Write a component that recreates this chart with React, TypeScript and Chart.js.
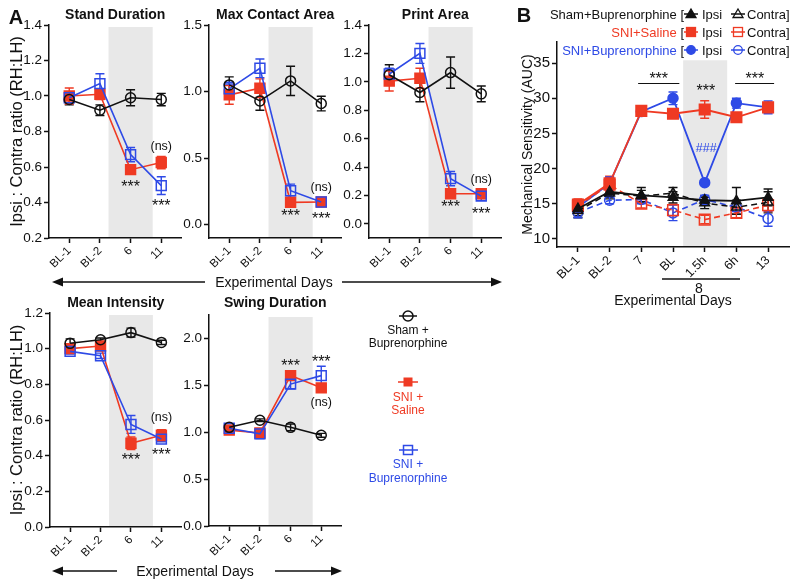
import React, { useEffect, useRef } from 'react';
import { Chart, registerables } from 'chart.js';

Chart.register(...registerables);

const FONT = "'Liberation Sans', Arial, Helvetica, sans-serif";
const INK = '#111111';
const RED = '#ef3a23';
const BLUE = '#2e4ae6';
const SHADE = '#e8e8e8';

Chart.defaults.font.family = FONT;
Chart.defaults.color = INK;

// ---------- categories ----------
const daysA = ['BL-1', 'BL-2', '6', '11'];
const daysB = ['BL-1', 'BL-2', '7', 'BL', '1.5h', '6h', '13'];

// ---------- Stand Duration ----------
const standSham = [0.98, 0.92, 0.99, 0.98];
const standShamErr = [0.03, 0.03, 0.045, 0.035];
const standSaline = [1.0, 1.01, 0.585, 0.625];
const standSalineErr = [0.045, 0.03, 0.025, 0.035];
const standBup = [0.99, 1.07, 0.67, 0.495];
const standBupErr = [0.03, 0.055, 0.04, 0.05];
const standTicks = ['0.2', '0.4', '0.6', '0.8', '1.0', '1.2', '1.4'];
const standNotes = [
  { x: 2, y: 0.51, t: '***' },
  { x: 3, y: 0.403, t: '***' },
  { x: 3, y: 0.718, t: '(ns)' },
];

// ---------- Max Contact Area ----------
const contactSham = [1.05, 0.93, 1.08, 0.91];
const contactShamErr = [0.06, 0.07, 0.11, 0.055];
const contactSaline = [0.975, 1.025, 0.168, 0.17];
const contactSalineErr = [0.07, 0.07, 0.015, 0.02];
const contactBup = [1.02, 1.175, 0.255, 0.17];
const contactBupErr = [0.05, 0.07, 0.05, 0.02];
const contactTicks = ['0.0', '0.5', '1.0', '1.5'];
const contactNotes = [
  { x: 2, y: 0.09, t: '***' },
  { x: 3, y: 0.068, t: '***' },
  { x: 3, y: 0.279, t: '(ns)' },
];

// ---------- Print Area ----------
const printSham = [1.05, 0.925, 1.065, 0.915];
const printShamErr = [0.07, 0.065, 0.11, 0.055];
const printSaline = [1.005, 1.025, 0.212, 0.212];
const printSalineErr = [0.07, 0.07, 0.015, 0.025];
const printBup = [1.055, 1.2, 0.318, 0.195];
const printBupErr = [0.04, 0.07, 0.05, 0.03];
const printTicks = ['0.0', '0.2', '0.4', '0.6', '0.8', '1.0', '1.2', '1.4'];
const printNotes = [
  { x: 2, y: 0.142, t: '***' },
  { x: 3, y: 0.092, t: '***' },
  { x: 3, y: 0.311, t: '(ns)' },
];

// ---------- Mean Intensity ----------
const intensitySham = [1.03, 1.05, 1.09, 1.035];
const intensityShamErr = [0.025, 0.01, 0.025, 0.012];
const intensitySaline = [1.0, 1.015, 0.47, 0.515];
const intensitySalineErr = [0.02, 0.02, 0.035, 0.03];
const intensityBup = [0.985, 0.96, 0.575, 0.493];
const intensityBupErr = [0.015, 0.015, 0.05, 0.015];
const intensityTicks = ['0.0', '0.2', '0.4', '0.6', '0.8', '1.0', '1.2'];
const intensityNotes = [
  { x: 2, y: 0.394, t: '***' },
  { x: 3, y: 0.422, t: '***' },
  { x: 3, y: 0.614, t: '(ns)' },
];

// ---------- Swing Duration ----------
const swingSham = [1.05, 1.125, 1.05, 0.965];
const swingShamErr = [0.02, 0.015, 0.035, 0.02];
const swingSaline = [1.02, 0.99, 1.6, 1.47];
const swingSalineErr = [0.03, 0.045, 0.02, 0.03];
const swingBup = [1.04, 0.98, 1.51, 1.6];
const swingBupErr = [0.03, 0.05, 0.05, 0.1];
const swingTicks = ['0.0', '0.5', '1.0', '1.5', '2.0'];
const swingNotes = [
  { x: 2, y: 1.745, t: '***' },
  { x: 3, y: 1.787, t: '***' },
  { x: 3, y: 1.31, t: '(ns)' },
];

// ---------- Mechanical Sensitivity (B) ----------
const shamIpsi = [14.3, 16.7, 16.2, 15.9, 15.5, 15.4, 15.9];
const shamIpsiErr = [1.0, 0.8, 1.1, 0.8, 0.6, 1.9, 1.2];
const shamContra = [14.0, 16.5, 16.1, 16.5, 15.1, 14.5, 15.2];
const shamContraErr = [1.0, 0.8, 0.8, 0.8, 0.8, 1.0, 1.5];
const salineIpsi = [14.9, 17.9, 28.2, 27.8, 28.4, 27.3, 28.7];
const salineIpsiErr = [0.8, 1.0, 0.4, 0.5, 1.25, 0.6, 0.6];
const salineContra = [14.7, 17.7, 15.0, 14.1, 12.75, 13.7, 14.8];
const salineContraErr = [0.8, 1.0, 0.6, 0.8, 0.6, 0.7, 0.9];
const bupIpsi = [14.5, 17.9, 28.1, 30.0, 18.0, 29.3, 28.7];
const bupIpsiErr = [0.8, 0.9, 0.4, 0.9, 0.3, 0.7, 0.9];
const bupContra = [13.8, 15.5, 15.6, 13.7, 15.6, 14.5, 12.9];
const bupContraErr = [0.8, 0.5, 0.6, 1.1, 0.6, 0.6, 1.1];
const mechTicks = ['10', '15', '20', '25', '30', '35'];
const mechNotes = [
  { x: 2.55, y: 33.3, t: '***' },
  { x: 4.04, y: 31.6, t: '***' },
  { x: 5.58, y: 33.3, t: '***' },
  { x: 4.05, y: 22.9, t: '###', c: BLUE },
];
const mechBrackets = [
  { x0: 1.9, x1: 3.2, y: 32.16 },
  { x0: 4.96, x1: 6.19, y: 32.16 },
];

// ---------- types & helpers ----------
type Note = { x: number; y: number; t: string; c?: string };
type Series = {
  vals: number[]; errs: number[]; color: string; style: string; r: number;
  filled: boolean; dash?: number[]; lw?: number;
};
type Box = { x: number; y: number; w: number; h: number };

function decor(o: {
  title?: string; titleY?: number; shade: [number, number]; shadeTop?: number;
  series: Series[]; notes: Note[]; brackets?: { x0: number; x1: number; y: number }[]; cap: number;
}) {
  return {
    id: 'decor',
    beforeDraw(chart: any) {
      const { ctx, chartArea, scales } = chart;
      const x0 = scales.x.getPixelForValue(o.shade[0]);
      const x1 = scales.x.getPixelForValue(o.shade[1]);
      const top = o.shadeTop != null ? scales.y.getPixelForValue(o.shadeTop) : chartArea.top + 2;
      ctx.save();
      ctx.fillStyle = SHADE;
      ctx.fillRect(x0, top, x1 - x0, chartArea.bottom - top);
      ctx.restore();
    },
    beforeDatasetsDraw(chart: any) {
      const { ctx, scales } = chart;
      const { x, y } = scales;
      o.series.forEach((s) => {
        ctx.save();
        ctx.strokeStyle = s.color;
        ctx.lineWidth = 1.4;
        ctx.setLineDash([]);
        s.vals.forEach((v, i) => {
          const e = s.errs[i];
          if (!e) return;
          const px = x.getPixelForValue(i);
          const a = y.getPixelForValue(v + e);
          const b = y.getPixelForValue(v - e);
          ctx.beginPath();
          ctx.moveTo(px, a); ctx.lineTo(px, b);
          ctx.moveTo(px - o.cap, a); ctx.lineTo(px + o.cap, a);
          ctx.moveTo(px - o.cap, b); ctx.lineTo(px + o.cap, b);
          ctx.stroke();
        });
        ctx.restore();
      });
    },
    afterDraw(chart: any) {
      const { ctx, chartArea, scales } = chart;
      const { x, y } = scales;
      ctx.save();
      ctx.textAlign = 'center';
      ctx.textBaseline = 'middle';
      if (o.title) {
        ctx.fillStyle = INK;
        ctx.font = `bold 14px ${FONT}`;
        ctx.fillText(o.title, (chartArea.left + chartArea.right) / 2, o.titleY);
      }
      (o.brackets || []).forEach((b) => {
        const yy = Math.round(y.getPixelForValue(b.y)) + 0.5;
        ctx.strokeStyle = INK;
        ctx.lineWidth = 1;
        ctx.beginPath();
        ctx.moveTo(x.getPixelForValue(b.x0), yy);
        ctx.lineTo(x.getPixelForValue(b.x1), yy);
        ctx.stroke();
      });
      o.notes.forEach((n) => {
        const star = n.t.includes('*');
        const size = star ? 16 : 12.5;
        ctx.font = `${size}px ${FONT}`;
        ctx.fillStyle = n.c || INK;
        ctx.fillText(n.t, x.getPixelForValue(n.x), y.getPixelForValue(n.y) + (star ? size * 0.27 : 0));
      });
      ctx.restore();
    },
  };
}

function lineConfig(p: {
  series: Series[]; labels: string[]; xMin: number; xMax: number;
  yTicks: string[]; yMin: number; yMax: number;
  padTop: number; padRight: number; yW: number; xH: number;
  yTitle?: string; yTitleSize?: number; yTitlePad?: number;
  yTickSize: number; xTickSize: number; plugin: any;
}) {
  const yVals = p.yTicks.map(Number);
  const grid = { drawOnChartArea: false, drawTicks: true, tickLength: 5, tickWidth: 1.5, tickColor: INK };
  const border = { display: true, color: INK, width: 1.5 };
  return {
    type: 'line' as const,
    data: {
      datasets: p.series.map((s) => ({
        data: s.vals.map((v, i) => ({ x: i, y: v })),
        borderColor: s.color,
        backgroundColor: s.color,
        borderWidth: s.lw ?? 1.6,
        borderDash: s.dash ?? [],
        pointStyle: s.style,
        pointRadius: s.r,
        pointHoverRadius: s.r,
        pointBackgroundColor: s.filled ? s.color : 'rgba(255,255,255,0)',
        pointBorderColor: s.color,
        pointBorderWidth: 1.5,
        fill: false,
        tension: 0,
        clip: false as any,
      })),
    },
    options: {
      animation: false as const,
      responsive: false,
      maintainAspectRatio: false,
      events: [] as any,
      layout: { padding: { top: p.padTop, right: p.padRight, bottom: 0, left: 0 } },
      plugins: { legend: { display: false }, tooltip: { enabled: false }, title: { display: false } },
      scales: {
        x: {
          type: 'linear' as const,
          min: p.xMin,
          max: p.xMax,
          afterBuildTicks: (s: any) => { s.ticks = p.labels.map((_, i) => ({ value: i })); },
          afterFit: (s: any) => { s.height = p.xH; },
          ticks: {
            callback: (_v: any, i: number) => p.labels[i],
            autoSkip: false, minRotation: 45, maxRotation: 45,
            font: { size: p.xTickSize, family: FONT }, color: INK, padding: 1,
          },
          grid, border,
        },
        y: {
          type: 'linear' as const,
          min: p.yMin,
          max: p.yMax,
          afterBuildTicks: (s: any) => { s.ticks = yVals.map((v) => ({ value: v })); },
          afterFit: (s: any) => { s.width = p.yW; },
          ticks: {
            callback: (_v: any, i: number) => p.yTicks[i],
            font: { size: p.yTickSize, family: FONT }, color: INK, padding: 2,
          },
          grid, border,
          title: p.yTitle
            ? { display: true, text: p.yTitle, color: INK, font: { size: p.yTitleSize, family: FONT }, padding: { top: p.yTitlePad, bottom: 0 } }
            : { display: false },
        },
      },
    },
    plugins: [p.plugin],
  };
}

function makeA(a: {
  title: string; titleY: number; sham: number[]; shamErr: number[]; saline: number[]; salineErr: number[];
  bup: number[]; bupErr: number[]; ticks: string[]; yMin: number; yMax: number; notes: Note[];
  padTop: number; yW: number; xH: number; yTitle?: string;
}) {
  const series: Series[] = [
    { vals: a.sham, errs: a.shamErr, color: INK, style: 'circle', r: 5, filled: false },
    { vals: a.bup, errs: a.bupErr, color: BLUE, style: 'rect', r: 7, filled: false },
    { vals: a.saline, errs: a.salineErr, color: RED, style: 'rect', r: 7, filled: true },
  ];
  return () => lineConfig({
    series, labels: daysA, xMin: -0.66, xMax: 3.66,
    yTicks: a.ticks, yMin: a.yMin, yMax: a.yMax,
    padTop: a.padTop, padRight: 8, yW: a.yW, xH: a.xH,
    yTitle: a.yTitle, yTitleSize: 16.5, yTitlePad: 7.5,
    yTickSize: 13.5, xTickSize: 11.5,
    plugin: decor({ title: a.title, titleY: a.titleY, shade: [1.28, 2.72], series, notes: a.notes, cap: 4.5 }),
  });
}

const YLAB = 'Ipsi : Contra ratio (RH:LH)';

const charts: { key: string; box: Box; make: () => any }[] = [
  {
    key: 'stand', box: { x: 0, y: 0, w: 190, h: 275 },
    make: makeA({ title: 'Stand Duration', titleY: 15, sham: standSham, shamErr: standShamErr, saline: standSaline, salineErr: standSalineErr, bup: standBup, bupErr: standBupErr, ticks: standTicks, yMin: 0.2, yMax: 1.4, notes: standNotes, padTop: 25, yW: 49, xH: 37, yTitle: YLAB }),
  },
  {
    key: 'contact', box: { x: 160, y: 0, w: 190, h: 275 },
    make: makeA({ title: 'Max Contact Area', titleY: 15, sham: contactSham, shamErr: contactShamErr, saline: contactSaline, salineErr: contactSalineErr, bup: contactBup, bupErr: contactBupErr, ticks: contactTicks, yMin: -0.1, yMax: 1.5, notes: contactNotes, padTop: 25, yW: 49, xH: 37 }),
  },
  {
    key: 'print', box: { x: 320, y: 0, w: 190, h: 275 },
    make: makeA({ title: 'Print Area', titleY: 15, sham: printSham, shamErr: printShamErr, saline: printSaline, salineErr: printSalineErr, bup: printBup, bupErr: printBupErr, ticks: printTicks, yMin: -0.1, yMax: 1.4, notes: printNotes, padTop: 25, yW: 49, xH: 37 }),
  },
  {
    key: 'intensity', box: { x: 0, y: 290, w: 190, h: 275 },
    make: makeA({ title: 'Mean Intensity', titleY: 13, sham: intensitySham, shamErr: intensityShamErr, saline: intensitySaline, salineErr: intensitySalineErr, bup: intensityBup, bupErr: intensityBupErr, ticks: intensityTicks, yMin: 0, yMax: 1.2, notes: intensityNotes, padTop: 23, yW: 50, xH: 38, yTitle: YLAB }),
  },
  {
    key: 'swing', box: { x: 160, y: 290, w: 190, h: 275 },
    make: makeA({ title: 'Swing Duration', titleY: 13, sham: swingSham, shamErr: swingShamErr, saline: swingSaline, salineErr: swingSalineErr, bup: swingBup, bupErr: swingBupErr, ticks: swingTicks, yMin: 0, yMax: 2.245, notes: swingNotes, padTop: 25, yW: 49, xH: 39 }),
  },
  {
    key: 'mech', box: { x: 510, y: 0, w: 290, h: 310 },
    make: () => {
      const dash = [6, 4];
      const series: Series[] = [
        { vals: shamIpsi, errs: shamIpsiErr, color: INK, style: 'triangle', r: 5.5, filled: true, lw: 1.8 },
        { vals: shamContra, errs: shamContraErr, color: INK, style: 'triangle', r: 5.5, filled: false, dash, lw: 1.6 },
        { vals: salineIpsi, errs: salineIpsiErr, color: RED, style: 'rect', r: 7.5, filled: true, lw: 1.8 },
        { vals: salineContra, errs: salineContraErr, color: RED, style: 'rect', r: 7.5, filled: false, dash, lw: 1.6 },
        { vals: bupIpsi, errs: bupIpsiErr, color: BLUE, style: 'circle', r: 5, filled: true, lw: 1.8 },
        { vals: bupContra, errs: bupContraErr, color: BLUE, style: 'circle', r: 5, filled: false, dash, lw: 1.6 },
      ];
      return lineConfig({
        series, labels: daysB, xMin: -0.66, xMax: 6.66,
        yTicks: mechTicks, yMin: 8.85, yMax: 38,
        padTop: 42, padRight: 11, yW: 47, xH: 63,
        yTitle: 'Mechanical Sensitivity (AUC)', yTitleSize: 14, yTitlePad: 10,
        yTickSize: 15, xTickSize: 12.5,
        plugin: decor({ shade: [3.32, 4.71], shadeTop: 35.4, series, notes: mechNotes, brackets: mechBrackets, cap: 4.5 }),
      });
    },
  },
];

function ChartCanvas({ box, make }: { box: Box; make: () => any }) {
  const ref = useRef<HTMLCanvasElement>(null);
  useEffect(() => {
    const chart = new Chart(ref.current as HTMLCanvasElement, make());
    return () => chart.destroy();
  }, []);
  return (
    <canvas
      ref={ref}
      width={box.w}
      height={box.h}
      style={{ position: 'absolute', left: box.x, top: box.y, width: box.w, height: box.h }}
    />
  );
}

function ArrowRow({ y, x0, x1, g0, g1, cx }: { y: number; x0: number; x1: number; g0: number; g1: number; cx: number }) {
  return (
    <g>
      <line x1={x0 + 8} x2={g0} y1={y} y2={y} stroke={INK} strokeWidth={1.5} />
      <line x1={g1} x2={x1 - 8} y1={y} y2={y} stroke={INK} strokeWidth={1.5} />
      <polygon points={`${x0},${y} ${x0 + 11},${y - 4.5} ${x0 + 11},${y + 4.5}`} fill={INK} />
      <polygon points={`${x1},${y} ${x1 - 11},${y - 4.5} ${x1 - 11},${y + 4.5}`} fill={INK} />
      <text x={cx} y={y} fontSize={14} textAnchor="middle" dominantBaseline="central" fill={INK}>Experimental Days</text>
    </g>
  );
}

const legendB = [
  { label: 'Sham+Buprenorphine', color: INK, shape: 'tri', y: 14 },
  { label: 'SNI+Saline', color: RED, shape: 'sq', y: 32 },
  { label: 'SNI+Buprenorphine', color: BLUE, shape: 'circ', y: 50 },
];

function Sym({ shape, x, y, color, filled }: { shape: string; x: number; y: number; color: string; filled: boolean }) {
  const fill = filled ? color : 'none';
  let m: any;
  if (shape === 'tri') m = <polygon points={`${x},${y - 5} ${x + 5},${y + 3.5} ${x - 5},${y + 3.5}`} fill={fill} stroke={color} strokeWidth={1.3} />;
  else if (shape === 'sq') m = <rect x={x - 4.5} y={y - 4.5} width={9} height={9} fill={fill} stroke={color} strokeWidth={1.3} />;
  else m = <circle cx={x} cy={y} r={4.3} fill={fill} stroke={color} strokeWidth={1.3} />;
  return (
    <g>
      <line x1={x - 7} x2={x + 7} y1={y} y2={y} stroke={color} strokeWidth={1.5} />
      {m}
    </g>
  );
}

function Overlay() {
  return (
    <svg width={800} height={586} style={{ position: 'absolute', left: 0, top: 0 }} fontFamily={FONT}>
      <text x={16} y={16.5} fontSize={20} fontWeight="bold" textAnchor="middle" dominantBaseline="central" fill={INK}>A</text>
      <text x={524} y={15} fontSize={20} fontWeight="bold" textAnchor="middle" dominantBaseline="central" fill={INK}>B</text>

      <ArrowRow y={282} x0={52} x1={502} g0={205} g1={342} cx={274} />
      <ArrowRow y={571} x0={52} x1={342} g0={117} g1={275} cx={195} />

      {/* Panel A legend */}
      <line x1={399} x2={417} y1={316} y2={316} stroke={INK} strokeWidth={1.5} />
      <circle cx={408} cy={316} r={5} fill="none" stroke={INK} strokeWidth={1.5} />
      <text x={408} y={329.5} fontSize={12} textAnchor="middle" dominantBaseline="central" fill={INK}>Sham +</text>
      <text x={408} y={343} fontSize={12} textAnchor="middle" dominantBaseline="central" fill={INK}>Buprenorphine</text>

      <line x1={398} x2={418} y1={382} y2={382} stroke={RED} strokeWidth={1.5} />
      <rect x={403.5} y={377.5} width={9} height={9} fill={RED} />
      <text x={408} y={396.5} fontSize={12} textAnchor="middle" dominantBaseline="central" fill={RED}>SNI +</text>
      <text x={408} y={409.5} fontSize={12} textAnchor="middle" dominantBaseline="central" fill={RED}>Saline</text>

      <line x1={399} x2={418} y1={450} y2={450} stroke={BLUE} strokeWidth={1.5} />
      <rect x={403.5} y={445.5} width={9} height={9} fill="none" stroke={BLUE} strokeWidth={1.5} />
      <text x={408} y={464} fontSize={12} textAnchor="middle" dominantBaseline="central" fill={BLUE}>SNI +</text>
      <text x={408} y={478} fontSize={12} textAnchor="middle" dominantBaseline="central" fill={BLUE}>Buprenorphine</text>

      {/* Panel B legend */}
      {legendB.map((r) => (
        <g key={r.label}>
          <text x={684} y={r.y} fontSize={13} textAnchor="end" dominantBaseline="central">
            <tspan fill={r.color}>{r.label}</tspan>
            <tspan fill={INK}> [</tspan>
          </text>
          <Sym shape={r.shape} x={691} y={r.y} color={r.color} filled={true} />
          <text x={702} y={r.y} fontSize={13} dominantBaseline="central" fill={INK}>Ipsi</text>
          <Sym shape={r.shape} x={738} y={r.y} color={r.color} filled={false} />
          <text x={747} y={r.y} fontSize={13} dominantBaseline="central" fill={INK}>Contra]</text>
        </g>
      ))}

      {/* Panel B x-axis day-8 bracket */}
      <line x1={662} x2={740} y1={279} y2={279} stroke={INK} strokeWidth={1.3} />
      <text x={699} y={287.5} fontSize={14} textAnchor="middle" dominantBaseline="central" fill={INK}>8</text>
      <text x={673} y={300} fontSize={14} textAnchor="middle" dominantBaseline="central" fill={INK}>Experimental Days</text>
    </svg>
  );
}

export default function App() {
  return (
    <div style={{ position: 'absolute', left: 0, top: 0, width: 800, height: 586, background: '#fff', overflow: 'hidden' }}>
      {charts.map((c) => (
        <ChartCanvas key={c.key} box={c.box} make={c.make} />
      ))}
      <Overlay />
    </div>
  );
}
